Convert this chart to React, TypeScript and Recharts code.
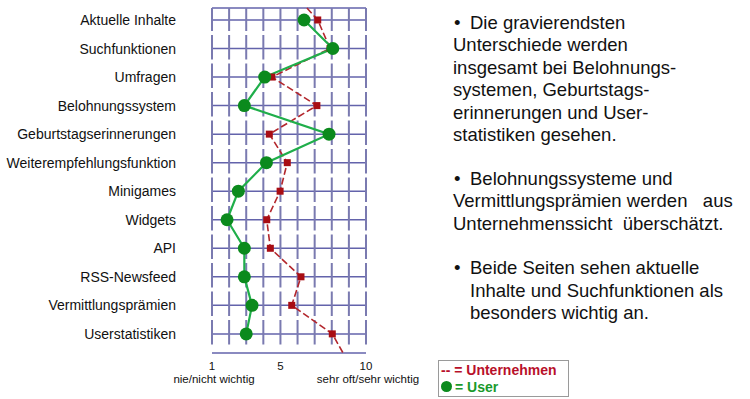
import React from 'react';
import { LineChart, Line, XAxis, YAxis, CartesianGrid, ReferenceLine } from 'recharts';

const categories = [
  'Aktuelle Inhalte',
  'Suchfunktionen',
  'Umfragen',
  'Belohnungssystem',
  'Geburtstagserinnerungen',
  'Weiterempfehlungsfunktion',
  'Minigames',
  'Widgets',
  'API',
  'RSS-Newsfeed',
  'Vermittlungsprämien',
  'Userstatistiken',
];
const userValues = [6.38, 8.06, 4.08, 2.89, 7.84, 4.18, 2.54, 1.88, 2.89, 2.89, 3.34, 3.0];
const companyValues = [7.18, 7.9, 4.5, 7.13, 4.35, 5.4, 4.98, 4.2, 4.41, 6.2, 5.66, 8.03];
// red trend line continues beyond the first and last rows
const companyLeadIn = { row: -0.42, value: 6.55 };
const companyLeadOut = { row: 11.67, value: 8.66 };

const xTicks = [1, 5, 10];
const xTickCaptions: Record<number, string> = { 1: 'nie/nicht wichtig', 10: 'sehr oft/sehr wichtig' };
const gridValues = [1, 2, 3, 4, 5, 6, 7, 8, 9, 10];
const rowTicks = categories.map((_, i) => i);

const bullet1 = ['Die gravierendsten', 'Unterschiede werden', 'insgesamt bei Belohnungs-', 'systemen, Geburtstags-', 'erinnerungen und User-', 'statistiken gesehen.'];
const bullet2 = ['Belohnungssysteme und', 'Vermittlungsprämien werden\u00a0\u00a0 aus', 'Unternehmenssicht\u00a0 überschätzt.'];
const bullet3 = ['Beide Seiten sehen aktuelle', 'Inhalte und Suchfunktionen als', 'besonders wichtig an.'];

const data = [
  { row: companyLeadIn.row, company: companyLeadIn.value, extra: true },
  ...categories.map((name, i) => ({ row: i, name, user: userValues[i], company: companyValues[i] })),
  { row: companyLeadOut.row, company: companyLeadOut.value, extra: true },
];

const FONT = '"Liberation Sans", Arial, sans-serif';
const RED = '#b3262c';
const RED_DOT = '#a80d14';
const GREEN = '#1fae4a';
const GREEN_DOT = '#0b8a1d';

const YTick = (props: any) => {
  const { x, y, payload } = props;
  return (
    <text x={x - 36} y={y} dy={5} textAnchor="end" fontSize={14} fill="#111" fontFamily={FONT}>
      {categories[payload.value]}
    </text>
  );
};

const XTick = (props: any) => {
  const { x, y, payload } = props;
  const cap = xTickCaptions[payload.value];
  return (
    <g>
      <text x={x} y={y} dy={17} textAnchor="middle" fontSize={11.5} fill="#111" fontFamily={FONT}>
        {payload.value}
      </text>
      {cap && (
        <text x={x + 2} y={y} dy={30} textAnchor="middle" fontSize={11.5} fill="#111" fontFamily={FONT}>
          {cap}
        </text>
      )}
    </g>
  );
};

const SquareDot = (props: any) => {
  const { cx, cy, payload } = props;
  if (payload?.extra || cx == null || cy == null) return null;
  return <rect x={cx - 3.5} y={cy - 3.5} width={7} height={7} fill={RED_DOT} />;
};

const CircleDot = (props: any) => {
  const { cx, cy, value } = props;
  if (value == null || cx == null || cy == null) return null;
  return <circle cx={cx} cy={cy} r={6.5} fill={GREEN_DOT} />;
};

const textStyle: React.CSSProperties = {
  position: 'absolute',
  fontFamily: FONT,
  fontSize: 18.5,
  lineHeight: '22.5px',
  color: '#111',
  whiteSpace: 'nowrap',
};

export default function App() {
  return (
    <div style={{ position: 'absolute', left: 0, top: 0, width: 750, height: 399, background: '#fff', overflow: 'hidden' }}>
      <LineChart
        width={750}
        height={399}
        data={data}
        layout="vertical"
        margin={{ top: 8, right: 384, bottom: 0, left: 0 }}
      >
        <CartesianGrid horizontal vertical={false} stroke="#6363ab" strokeWidth={1.5} />
        {gridValues.map((v) => (
          <ReferenceLine
            key={v}
            segment={[{ x: v, y: -0.42 }, { x: v, y: 11.45 }]}
            stroke="#7a7ab0"
            strokeWidth={2}
            strokeDasharray="24.5 4"
            strokeDashoffset={1.5}
          />
        ))}
        <XAxis
          type="number"
          domain={[1, 10]}
          ticks={xTicks}
          axisLine={false}
          tickLine={false}
          tickSize={0}
          tickMargin={0}
          height={46}
          interval={0}
          tick={<XTick />}
        />
        <YAxis
          type="number"
          dataKey="row"
          domain={[-0.42, 11.67]}
          ticks={rowTicks}
          axisLine={false}
          tickLine={false}
          tickSize={0}
          tickMargin={0}
          width={212}
          interval={0}
          tick={<YTick />}
        />
        <Line
          dataKey="company"
          stroke={RED}
          strokeWidth={1.6}
          strokeDasharray="7 3"
          dot={<SquareDot />}
          activeDot={false}
          isAnimationActive={false}
          type="linear"
        />
        <Line
          dataKey="user"
          stroke={GREEN}
          strokeWidth={2.2}
          dot={<CircleDot />}
          activeDot={false}
          isAnimationActive={false}
          type="linear"
        />
      </LineChart>

      <div style={{ ...textStyle, left: 453, top: 11.6 }}>
        {bullet1.map((l, i) => (
          <div key={i} style={{ paddingLeft: i === 0 ? 17 : 0, position: 'relative' }}>
            {i === 0 && <span style={{ position: 'absolute', left: 1, top: 0 }}>•</span>}
            {l}
          </div>
        ))}
      </div>
      <div style={{ ...textStyle, left: 453, top: 167.8 }}>
        {bullet2.map((l, i) => (
          <div key={i} style={{ paddingLeft: i === 0 ? 17 : 0, position: 'relative' }}>
            {i === 0 && <span style={{ position: 'absolute', left: 1, top: 0 }}>•</span>}
            {l}
          </div>
        ))}
      </div>
      <div style={{ ...textStyle, left: 453, top: 257.3 }}>
        {bullet3.map((l, i) => (
          <div key={i} style={{ paddingLeft: 17, position: 'relative' }}>
            {i === 0 && <span style={{ position: 'absolute', left: 1, top: 0 }}>•</span>}
            {l}
          </div>
        ))}
      </div>

      <div
        style={{
          position: 'absolute',
          left: 438,
          top: 360,
          width: 131,
          height: 37,
          border: '1px solid #9a9a9a',
          fontFamily: FONT,
          fontWeight: 'bold',
          fontSize: 14,
          lineHeight: '16.5px',
          paddingLeft: 2,
          boxSizing: 'border-box',
        }}
      >
        <div style={{ color: '#b8102a', marginTop: 1 }}>-- = Unternehmen</div>
        <div style={{ color: '#1a9a2c', display: 'flex', alignItems: 'center' }}>
          <span style={{ display: 'inline-block', width: 11, height: 11, borderRadius: '50%', background: '#0b8a1d', marginRight: 3 }} />
          = User
        </div>
      </div>
    </div>
  );
}
